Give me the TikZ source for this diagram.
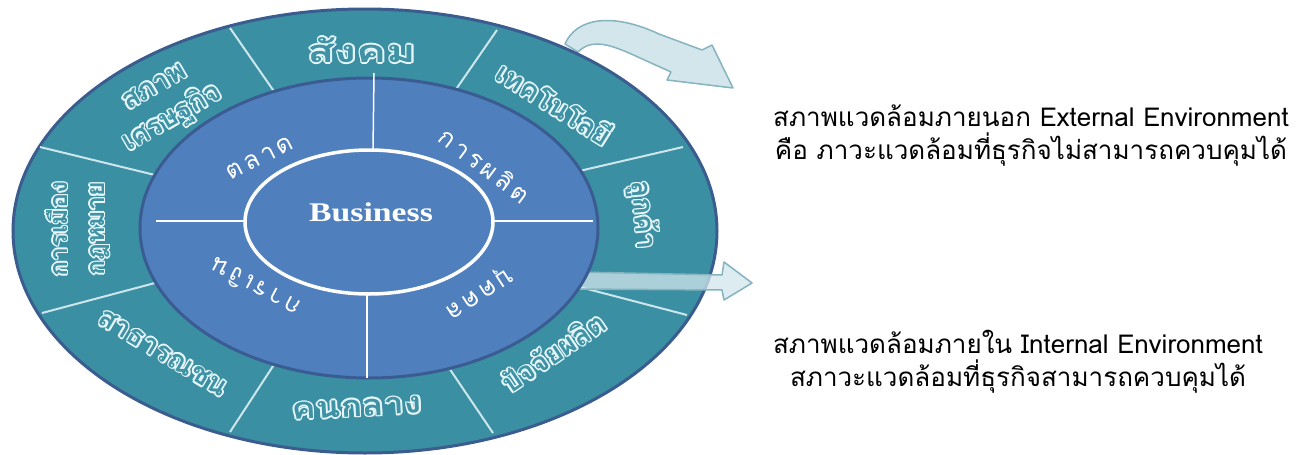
\documentclass[tikz,border=0pt]{standalone}
\usepackage{fontspec}
\usepackage{graphicx}
\setmainfont{Liberation Serif}
\newfontfamily\thaifont[Script=Thai]{Loma}
\definecolor{ringfill}{HTML}{3A8FA2}
\definecolor{ringborder}{HTML}{3B5C8E}
\definecolor{discfill}{HTML}{4F80BD}
\definecolor{discborder}{HTML}{3A5C92}
\definecolor{arrowfill}{HTML}{D2E6EC}
\definecolor{arrowline}{HTML}{86B3C0}
\definecolor{ringtext}{HTML}{3F93A5}
\definecolor{outlinecol}{HTML}{E6F6FA}
\newcommand\oshift[2]{\rlap{\kern#1\raisebox{#2}{\copy0}}}
\newcommand\outl[2][1]{\setbox0=\hbox{\scalebox{#1}[1]{#2}}%
{\color{outlinecol}\oshift{1.6pt}{0pt}\oshift{-1.6pt}{0pt}\oshift{0pt}{1.6pt}\oshift{0pt}{-1.6pt}%
\oshift{1.15pt}{1.15pt}\oshift{-1.15pt}{1.15pt}\oshift{1.15pt}{-1.15pt}\oshift{-1.15pt}{-1.15pt}}%
\textcolor{ringtext}{\copy0}}
\newcommand\gs{\hspace{3.5pt}}
\tikzset{
  ringlabel/.style={inner sep=0pt, align=center},
  innerlabel/.style={font=\thaifont\fontsize{25}{27}\selectfont, text=white, inner sep=0pt},
  note/.style={font=\thaifont\fontsize{26}{33}\selectfont, align=center, text=black, inner sep=0pt},
  divider/.style={draw=outlinecol, line width=2pt, opacity=0.85},
  discline/.style={draw=white, line width=1.5pt},
  arrowshape/.style={fill=arrowfill, draw=arrowline, line width=1.5pt, line join=round}
}
\begin{document}
\begin{tikzpicture}[x=1pt,y=-1pt]
\useasboundingbox (0,0) rectangle (1302,455);
% upper curved arrow (behind ring)
\filldraw[arrowshape] (565,44) .. controls (576,18) and (612,12) .. (659,34) -- (702,50) -- (712,45) -- (733,88) -- (667,80) -- (671,72) -- (640,58) .. controls (610,44) and (592,38) .. (578,52) -- cycle;
% outer ring
\filldraw[fill=ringfill, draw=ringborder, line width=3pt] (365,231) ellipse [x radius=352pt, y radius=222pt];
% ring dividers
\draw[divider] (280,100) -- (230,28);
\draw[divider] (450,98) -- (497,30);
\draw[divider] (575,172) -- (683,147);
\draw[divider] (572,285) -- (687,315);
\draw[divider] (445,362) -- (493,433);
\draw[divider] (277,360) -- (230,432);
\draw[divider] (155,283) -- (42,313);
\draw[divider] (155,175) -- (40,147);
% ring labels
\node[ringlabel, font=\thaifont\bfseries\fontsize{31}{34}\selectfont] (soc) at (362,50) {\outl[1.45]{สังคม}};
\node[ringlabel, font=\thaifont\bfseries\fontsize{28}{34}\selectfont, rotate=-32] (tech) at (555,103) {\outl{เทคโนโลยี}};
\node[ringlabel, font=\thaifont\bfseries\fontsize{28}{34}\selectfont, rotate=-85] (cust) at (643,215) {\outl{ลูกค้า}};
\node[ringlabel, font=\thaifont\bfseries\fontsize{28}{34}\selectfont, rotate=34] (fac) at (553,352) {\outl{ปัจจัยผลิต}};
\node[ringlabel, font=\thaifont\bfseries\fontsize{30}{34}\selectfont, rotate=3] (mid) at (357,408) {\outl[1.2]{คนกลาง}};
\node[ringlabel, font=\thaifont\bfseries\fontsize{28}{34}\selectfont, rotate=-31] (pub) at (163,353) {\outl{สาธารณชน}};
\node[ringlabel, font=\thaifont\bfseries\fontsize{25}{37}\selectfont, rotate=90] (pol) at (78,229) {\outl{การเมือง}\\\outl{กฎหมาย}};
\node[ringlabel, font=\thaifont\bfseries\fontsize{28}{36}\selectfont, rotate=30] (eco) at (165,105) {\outl{สภาพ}\\\outl{เศรษฐกิจ}};
% lower arrow (over ring)
\filldraw[arrowshape, fill opacity=0.75] (575,272) -- (722,275) -- (724,262) -- (752,283) -- (724,300) -- (722,290) -- (575,289) -- cycle;
% inner disc
\filldraw[fill=discfill, draw=discborder, line width=3pt] (369,228) ellipse [x radius=229pt, y radius=150pt];
\draw[discline] (374,73) -- (373,150);
\draw[discline] (367,294) -- (367,378);
\draw[discline] (156,221) -- (245,221);
\draw[discline] (493,221) -- (593,221);
% center ellipse
\filldraw[fill=discfill, draw=white, line width=3.5pt] (369,222) ellipse [x radius=124pt, y radius=72pt];
\node[font=\bfseries\fontsize{27}{29}\selectfont, text=white] (biz) at (371,212) {\scalebox{1.25}[1]{Business}};
% inner labels
\node[innerlabel, rotate=27] (mkt) at (260,158) {ต\gs ล\gs า\gs ด};
\node[innerlabel, rotate=-37] (prod) at (485,165) {ก\gs า\gs ร\gs ผ\gs ลิ\gs ต};
\node[innerlabel, rotate=152] (fin) at (255,288) {ก\gs า\gs ร\gs เ\gs งิ\gs น};
\node[innerlabel, rotate=213] (hr) at (478,292) {บุ\gs ค\gs ค\gs ล};
% notes
\node[note] (ext) at (1031,136) {สภาพแวดล้อมภายนอก External Environment\\คือ ภาวะแวดล้อมที่ธุรกิจไม่สามารถควบคุมได้};
\node[note] (int) at (1018,362) {สภาพแวดล้อมภายใน Internal Environment\\สภาวะแวดล้อมที่ธุรกิจสามารถควบคุมได้};
\end{tikzpicture}
\end{document}
